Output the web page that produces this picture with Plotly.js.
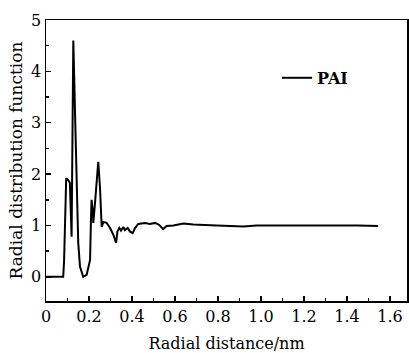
<!DOCTYPE html>
<html>
<head>
<meta charset="utf-8">
<script src="https://cdn.plot.ly/plotly-3.0.1.min.js"></script>
<style>html,body{margin:0;padding:0;background:#fff;}#chart{width:409px;height:353px;}</style>
</head>
<body>
<div id="chart"></div>
<script>
// Radial distance (nm)
const radialDistance = [0, 0.065, 0.08, 0.084, 0.094, 0.104, 0.111, 0.119, 0.127, 0.14, 0.15, 0.158, 0.173, 0.189, 0.205, 0.209, 0.212, 0.217, 0.22, 0.228, 0.243, 0.251, 0.259, 0.267, 0.282, 0.298, 0.313, 0.326, 0.332, 0.341, 0.349, 0.36, 0.367, 0.38, 0.391, 0.403, 0.414, 0.429, 0.46, 0.484, 0.507, 0.527, 0.545, 0.561, 0.592, 0.639, 0.685, 0.794, 0.918, 0.98, 1.042, 1.15, 1.25, 1.35, 1.45, 1.545];
// Radial distribution function g(r) for PAI
const rdfPAI = [0, 0, 0, 0.3, 1.92, 1.88, 1.83, 0.78, 4.6, 2.34, 0.66, 0.2, 0, 0.04, 0.33, 1.1, 1.5, 1.3, 1.05, 1.44, 2.24, 1.75, 0.97, 1.07, 1.05, 0.95, 0.82, 0.66, 0.88, 0.95, 0.9, 0.97, 0.91, 0.95, 0.88, 0.85, 0.95, 1.03, 1.05, 1.03, 1.05, 1.01, 0.93, 0.99, 1.0, 1.04, 1.02, 1.0, 0.98, 1.0, 1.0, 1.0, 1.01, 1.0, 1.0, 0.99];
const seriesName = "PAI";
const xTickVals = [0, 0.2, 0.4, 0.6, 0.8, 1.0, 1.2, 1.4, 1.6];
const xTickText = ["0", "0.2", "0.4", "0.6", "0.8", "1.0", "1.2", "1.4", "1.6"];
const yTickVals = [0, 1, 2, 3, 4, 5];
const yTickText = ["0", "1", "2", "3", "4", "5"];

const fontFam = "DejaVu Serif";

Plotly.newPlot("chart", [{
  x: radialDistance,
  y: rdfPAI,
  type: "scatter",
  mode: "lines",
  name: seriesName,
  line: {color: "#000", width: 2}
}], {
  width: 409, height: 353,
  margin: {l: 46, r: 2, t: 20, b: 52},
  paper_bgcolor: "#fff", plot_bgcolor: "#fff",
  font: {family: fontFam, color: "#000", size: 16},
  showlegend: true,
  legend: {x: 0.64, y: 0.794, xanchor: "left", yanchor: "middle",
           bgcolor: "rgba(0,0,0,0)", font: {family: fontFam, size: 16, weight: "bold"}},
  xaxis: {
    range: [0, 1.679], showgrid: false, zeroline: false,
    showline: true, linecolor: "#000", linewidth: 1.5, mirror: true,
    ticks: "inside", ticklen: 5, tickwidth: 1.5, tickcolor: "#000",
    tickvals: xTickVals, ticktext: xTickText,
    tickfont: {family: fontFam, size: 16},
    minor: {ticks: "inside", dtick: 0.1, tick0: 0, ticklen: 3, tickwidth: 1.5, tickcolor: "#000", showgrid: false},
    title: {text: "Radial distance/nm", font: {family: fontFam, size: 16}, standoff: 13}
  },
  yaxis: {
    range: [-0.47, 5], showgrid: false, zeroline: false,
    showline: true, linecolor: "#000", linewidth: 1.5, mirror: true,
    ticks: "inside", ticklen: 5, tickwidth: 1.5, tickcolor: "#000",
    tickvals: yTickVals, ticktext: yTickText,
    tickfont: {family: fontFam, size: 16},
    minor: {ticks: "inside", dtick: 0.5, tick0: 0, ticklen: 3, tickwidth: 1.5, tickcolor: "#000", showgrid: false},
    title: {text: "Radial distribution function", font: {family: fontFam, size: 17}, standoff: 4}
  }
}, {staticPlot: true, displayModeBar: false});
</script>
</body>
</html>
